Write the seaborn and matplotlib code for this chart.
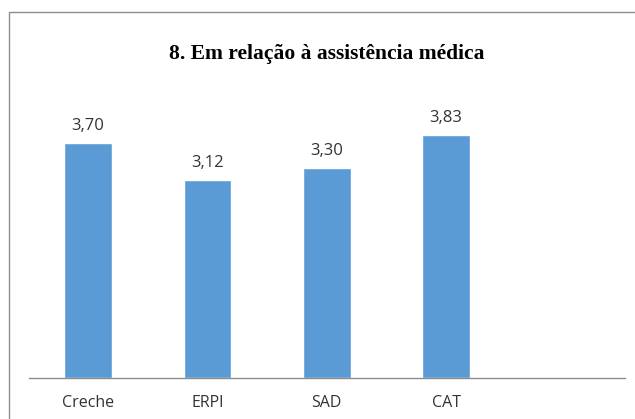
import matplotlib
matplotlib.use("Agg")
import matplotlib.pyplot as plt
import seaborn as sns
import pandas as pd
from matplotlib.patches import Rectangle

categories = ["Creche", "ERPI", "SAD", "CAT", ""]
values = [3.70, 3.12, 3.30, 3.83, 0.0]
value_labels = ["3,70", "3,12", "3,30", "3,83", ""]
title = "8. Em relação à assistência médica"

sns.set_theme(style="white")
plt.rcParams['font.family'] = ['Open Sans', 'DejaVu Sans']

W, H = 635, 419
fig = plt.figure(figsize=(W / 100, H / 100), dpi=100)
fig.patch.set_facecolor("white")

# outer frame (cropped on right and bottom)
fig.patches.append(Rectangle((9 / W, -0.1), 1.2, (H - 12.5) / H + 0.1,
                             transform=fig.transFigure, fill=False,
                             edgecolor="#8c8c8c", linewidth=1.0))

left, right, bottom, top = 28.5, 625, 41, 419 - 92
ax = fig.add_axes([left / W, bottom / H, (right - left) / W, (top - bottom) / H])

df = pd.DataFrame({"cat": categories, "val": values})
sns.barplot(data=df, x="cat", y="val", color="#5B9BD5", saturation=1,
            width=0.40, ax=ax, order=categories)

ax.set_xlim(-0.5, 4.5)
ax.set_ylim(0, 4.5)
ax.set_xlabel("")
ax.set_ylabel("")
ax.set_yticks([])
for s in ["top", "right", "left"]:
    ax.spines[s].set_visible(False)
ax.spines["bottom"].set_color("#8c8c8c")
ax.spines["bottom"].set_linewidth(1.0)
ax.tick_params(axis="x", length=0, pad=12.5, labelsize=11.5, colors="#333333")

for i, (v, lab) in enumerate(zip(values, value_labels)):
    if lab:
        ax.annotate(lab, (i, v), xytext=(0, 6.5), textcoords="offset points",
                    ha="center", va="bottom", fontsize=12, color="#333333")

fig.text(327 / W, 1 - 54 / H, title, ha="center", va="center",
         fontsize=15.5, fontweight="bold", family=["Liberation Serif", "DejaVu Serif"],
         color="black")

fig.savefig("out.png", dpi=100)
